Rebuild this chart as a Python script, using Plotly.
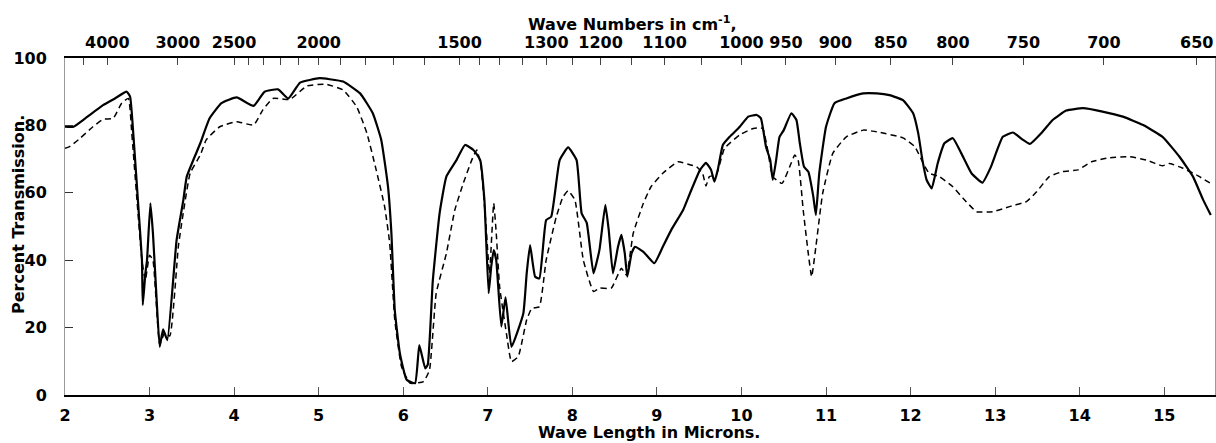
import plotly.graph_objects as go

# ---- Data (wavelength in microns, percent transmission) ----
solid_wl = [2.00, 2.10, 2.24, 2.45, 2.59, 2.73, 2.77, 2.81, 2.87, 2.91, 2.92, 2.95, 2.97, 3.01, 3.04,
            3.08, 3.12, 3.16, 3.21, 3.32, 3.40, 3.44, 3.60, 3.71, 3.85, 4.03, 4.23, 4.36, 4.52, 4.64,
            4.78, 5.01, 5.13, 5.29, 5.49, 5.64, 5.74, 5.82, 5.86, 5.90, 5.96, 6.04, 6.14, 6.19, 6.26,
            6.29, 6.35, 6.43, 6.51, 6.63, 6.73, 6.83, 6.91, 6.96, 7.01, 7.04, 7.07, 7.10, 7.16, 7.21,
            7.28, 7.42, 7.46, 7.50, 7.56, 7.61, 7.69, 7.75, 7.85, 7.95, 8.05, 8.11, 8.17, 8.25, 8.32,
            8.39, 8.43, 8.48, 8.54, 8.58, 8.62, 8.65, 8.70, 8.74, 8.84, 8.97, 9.07, 9.17, 9.31, 9.39,
            9.51, 9.58, 9.64, 9.68, 9.72, 9.78, 9.86, 9.98, 10.08, 10.18, 10.23, 10.29, 10.34, 10.37,
            10.41, 10.45, 10.50, 10.59, 10.65, 10.69, 10.74, 10.79, 10.85, 10.88, 10.92, 11.00, 11.10,
            11.24, 11.44, 11.60, 11.75, 11.91, 12.03, 12.09, 12.14, 12.19, 12.25, 12.32, 12.40, 12.50,
            12.60, 12.72, 12.85, 12.95, 13.09, 13.21, 13.33, 13.41, 13.56, 13.68, 13.84, 14.04, 14.27,
            14.51, 14.75, 14.98, 15.18, 15.34, 15.46, 15.55]
solid_t = [79.6, 79.6, 82.1, 86.0, 88.0, 90.0, 88.5, 76.7, 54.9, 40.0, 26.7, 36.0, 40.0, 56.9, 48.0,
           30.0, 14.3, 19.5, 16.3, 46.0, 57.9, 64.8, 74.7, 82.1, 86.6, 88.3, 85.8, 90.0, 90.7, 88.0,
           92.7, 94.0, 93.7, 93.0, 89.5, 83.6, 75.7, 61.8, 48.0, 25.2, 12.4, 4.5, 3.5, 14.8, 7.9,
           9.0, 34.0, 53.9, 64.8, 69.7, 74.2, 72.7, 69.7, 57.9, 30.2, 38.0, 43.0, 40.0, 20.3, 29.0,
           14.3, 24.2, 36.1, 44.5, 35.1, 34.6, 51.9, 52.9, 69.7, 73.5, 69.7, 53.9, 51.1, 36.1, 43.0,
           56.4, 49.0, 36.1, 44.0, 47.5, 42.0, 35.1, 42.0, 44.0, 42.5, 39.1, 44.0, 49.0, 54.9, 59.8,
           66.8, 68.9, 66.8, 63.3, 66.8, 74.2, 76.6, 79.6, 82.6, 83.1, 82.1, 73.7, 69.7, 63.8,
           69.7, 76.6, 78.6, 83.6, 81.6, 74.7, 67.7, 66.3, 58.8, 53.4, 65.8, 79.6, 86.6,
           88.0, 89.5, 89.5, 89.0, 87.5, 83.6, 77.7, 69.7, 63.8, 61.3, 68.7, 74.7, 76.2,
           71.7, 65.8, 63.0, 67.7, 76.6, 77.9, 75.7, 74.5, 78.1, 81.6, 84.4, 85.1, 84.1,
           82.6, 80.1, 76.6, 70.7, 64.8, 57.9, 53.4]

dashed_wl = [2.00, 2.06, 2.18, 2.33, 2.45, 2.57, 2.67, 2.75, 2.79, 2.86, 2.91, 2.95, 3.00, 3.04, 3.12,
             3.18, 3.24, 3.34, 3.38, 3.48, 3.60, 3.67, 3.83, 4.03, 4.23, 4.34, 4.46, 4.66, 4.86, 5.09,
             5.29, 5.45, 5.57, 5.68, 5.78, 5.84, 5.90, 5.98, 6.08, 6.24, 6.31, 6.39, 6.51, 6.61, 6.71,
             6.81, 6.87, 6.92, 6.98, 7.02, 7.07, 7.10, 7.14, 7.22, 7.28, 7.36, 7.46, 7.52, 7.61, 7.69,
             7.81, 7.89, 7.95, 8.03, 8.13, 8.25, 8.32, 8.46, 8.58, 8.64, 8.72, 8.84, 8.93, 9.07, 9.25,
             9.37, 9.47, 9.54, 9.58, 9.62, 9.70, 9.80, 9.98, 10.14, 10.25, 10.31, 10.37, 10.48, 10.57,
             10.63, 10.67, 10.73, 10.79, 10.83, 10.88, 10.96, 11.08, 11.24, 11.44, 11.60, 11.91, 12.05,
             12.15, 12.22, 12.34, 12.50, 12.62, 12.78, 12.97, 13.17, 13.37, 13.49, 13.64, 13.80, 13.98,
             14.14, 14.35, 14.59, 14.79, 14.98, 15.06, 15.22, 15.38, 15.55]
dashed_t = [73.2, 73.8, 76.2, 79.6, 81.8, 82.1, 86.6, 88.0, 77.6, 55.0, 40.0, 34.0, 41.5, 40.0, 15.0,
            18.5, 17.5, 44.0, 51.0, 65.8, 71.2, 75.7, 79.6, 81.1, 80.1, 84.6, 88.0, 87.7, 91.7, 92.2,
            90.5, 85.5, 77.7, 66.8, 55.9, 45.0, 22.3, 8.4, 3.5, 4.0, 7.4, 30.2, 42.0, 54.9, 62.8,
            69.7, 72.7, 67.7, 50.0, 36.1, 56.9, 48.0, 32.1, 18.3, 9.9, 11.4, 22.3, 25.7, 26.2, 40.0,
            52.9, 58.8, 60.6, 57.9, 40.0, 30.7, 31.7, 31.7, 37.6, 35.6, 48.0, 56.9, 61.8, 65.8, 69.2,
            68.5, 67.7, 65.8, 62.0, 64.8, 65.3, 73.2, 77.2, 79.1, 79.1, 72.7, 64.8, 62.8, 67.7,
            71.2, 69.7, 54.9, 42.0, 35.1, 44.0, 59.8, 71.7, 76.6, 78.6, 78.1, 76.3, 73.7,
            68.7, 65.8, 64.8, 61.8, 58.4, 54.4, 54.4, 55.9, 57.4, 60.3, 64.8, 66.3, 66.8,
            69.2, 70.4, 70.7, 69.7, 68.0, 68.7, 67.3, 65.3, 62.8]

bottom_ticks = [2, 3, 4, 5, 6, 7, 8, 9, 10, 11, 12, 13, 14, 15]
y_ticks = [0, 20, 40, 60, 80, 100]
wavenumber_ticks = [4500, 4000, 3000, 2500, 2400, 2300, 2200, 2100, 2000, 1900, 1800, 1700, 1600,
                    1500, 1450, 1400, 1350, 1300, 1250, 1200, 1150, 1100, 1050, 1000, 950, 900,
                    850, 800, 750, 700, 650]
wavenumber_labels = [4000, 3000, 2500, 2000, 1500, 1300, 1200, 1100, 1000, 950, 900, 850, 800,
                     750, 700, 650]

FONT = "DejaVu Sans"
XR = [2, 15.6]

fig = go.Figure()
fig.add_trace(go.Scatter(x=dashed_wl, y=dashed_t, mode="lines",
                         line=dict(color="black", width=1.5, dash="6px,4px", shape="spline", smoothing=0.4),
                         showlegend=False, hoverinfo="skip"))
fig.add_trace(go.Scatter(x=solid_wl, y=solid_t, mode="lines",
                         line=dict(color="black", width=2.2, shape="spline", smoothing=0.4),
                         showlegend=False, hoverinfo="skip"))
# invisible trace to activate the top (wavenumber) axis
fig.add_trace(go.Scatter(x=[XR[0]], y=[0], xaxis="x2", mode="markers",
                         marker=dict(opacity=0), showlegend=False, hoverinfo="skip"))

top_vals = [10000.0 / w for w in wavenumber_ticks]
top_text = [str(w) if w in wavenumber_labels else "" for w in wavenumber_ticks]

TICKFONT = dict(size=16, family=FONT, weight="bold")

fig.update_layout(
    width=1216, height=443,
    margin=dict(l=65, r=1, t=58, b=48),
    paper_bgcolor="white", plot_bgcolor="white",
    font=dict(family=FONT, color="black"),
    xaxis=dict(range=XR, tickvals=bottom_ticks, ticktext=[str(v) for v in bottom_ticks],
               ticks="inside", ticklen=8, tickwidth=1, tickcolor="#555",
               showline=True, linecolor="black", linewidth=2,
               showgrid=False, zeroline=False, automargin=False,
               tickfont=TICKFONT, ticklabelstandoff=5),
    xaxis2=dict(range=XR, overlaying="x", side="top", tickvals=top_vals, ticktext=top_text,
                ticks="inside", ticklen=7, tickwidth=1, tickcolor="#444",
                showline=True, linecolor="black", linewidth=1.5,
                showgrid=False, zeroline=False, automargin=False,
                tickfont=TICKFONT, ticklabelstandoff=2),
    yaxis=dict(range=[0, 100], tickvals=y_ticks, ticktext=[str(v) for v in y_ticks],
               ticks="inside", ticklen=8, tickwidth=1, tickcolor="#333",
               showline=True, linecolor="#9a9a9a", linewidth=1, mirror=True,
               showgrid=False, zeroline=False, automargin=False,
               tickfont=TICKFONT, ticklabelstandoff=14),
    annotations=[
        dict(text="Wave Numbers in cm<sup>-1</sup>,", xref="paper", yref="paper",
             x=(632 - 65) / 1150, y=(395 - 23) / 337, xanchor="center", yanchor="middle",
             showarrow=False, font=dict(size=16, family=FONT, weight="bold")),
        dict(text="Wave Length in Microns.", xref="paper", yref="paper",
             x=(649 - 65) / 1150, y=(395 - 433) / 337, xanchor="center", yanchor="middle",
             showarrow=False, font=dict(size=16, family=FONT, weight="bold")),
        dict(text="Percent Transmission.", xref="paper", yref="paper",
             x=(18 - 65) / 1150, y=(395 - 215) / 337, xanchor="center", yanchor="middle",
             textangle=-90, showarrow=False, font=dict(size=16, family=FONT, weight="bold")),
    ],
)

fig.write_html("out.html", config={"displayModeBar": False},
               post_script="document.body.style.margin='0px';")
